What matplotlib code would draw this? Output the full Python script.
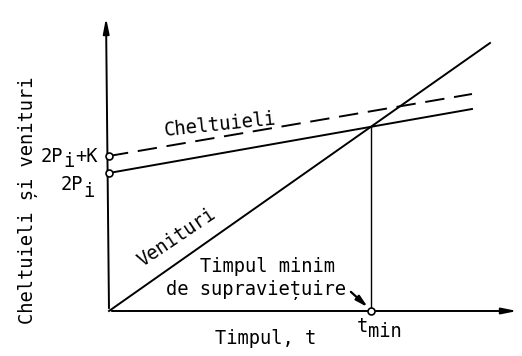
import numpy as np
import matplotlib
matplotlib.use("Agg")
import matplotlib.pyplot as plt

# scrisul din original seamana cu un sablon tehnic cu pas fix
plt.rcParams['font.family'] = ['DejaVu Sans Mono']

# date (unitati arbitrare)
t_cost = [0, 363]
cheltuieli = [138, 202]        # 2Pi -> ...
cheltuieli_k = [155, 217]      # 2Pi + K -> ...
t_venit = [0, 381]
venituri = [0, 268]
x_max, y_max = 411, 296

# intersectia venituri / cheltuieli (timpul minim)
a1 = (venituri[1] - venituri[0]) / (t_venit[1] - t_venit[0])
a2 = (cheltuieli[1] - cheltuieli[0]) / (t_cost[1] - t_cost[0])
t_min = (cheltuieli[0] - venituri[0]) / (a1 - a2)
y_min = venituri[0] + a1 * t_min

fig = plt.figure(figsize=(5.22, 3.56), dpi=100)
ax = fig.add_axes([109 / 522, 45 / 356, 413 / 522, 311 / 356])
ax.set_xlim(0, 413)
ax.set_ylim(0, 311)
ax.axis('off')

k = dict(color='black', clip_on=False)

# axe cu sageti
ax.annotate('', xy=(x_max, 0), xytext=(0, 0), annotation_clip=False,
            arrowprops=dict(arrowstyle='-|>,head_length=0.9,head_width=0.18', color='black', lw=1.4))
ax.annotate('', xy=(-3, y_max), xytext=(0, 0), annotation_clip=False,
            arrowprops=dict(arrowstyle='-|>,head_length=0.9,head_width=0.18', color='black', lw=1.4))

ax.plot(t_cost, cheltuieli, lw=1.4, **k)
ax.plot(t_cost, cheltuieli_k, lw=1.4, ls=(0, (10, 5)), **k)
ax.plot(t_venit, venituri, lw=1.4, **k)
ax.plot([t_min, t_min], [0, y_min], lw=1.0, **k)

ax.plot([0, 0, t_min], [cheltuieli_k[0], cheltuieli[0], 0], 'o', ms=5,
        mfc='white', mec='black', mew=1.2, clip_on=False, zorder=5)

fs = 13.5
adv = 11.3   # latimea unui caracter (font cu pas fix), in unitati de date
# 2Pi+K si 2Pi, indicele i scris la aceeasi marime, doar coborat
x0 = -68
ax.text(x0, 149, '2P', ha='left', va='baseline', fontsize=fs)
ax.text(x0 + 2 * adv, 144, 'i', ha='left', va='baseline', fontsize=fs)
ax.text(x0 + 3 * adv, 149, '+K', ha='left', va='baseline', fontsize=fs)
x1 = -48
ax.text(x1, 121, '2P', ha='left', va='baseline', fontsize=fs)
ax.text(x1 + 2 * adv, 114, 'i', ha='left', va='baseline', fontsize=fs)

ax.text(111, 186, 'Cheltuieli', ha='center', va='center', fontsize=fs, rotation=6)
ax.text(68, 74, 'Venituri', ha='center', va='center', fontsize=fs, rotation=34)
ax.text(158, 39, 'Timpul minim', ha='center', va='baseline', fontsize=fs)
ax.text(147, 16, 'de supraviețuire', ha='center', va='baseline', fontsize=fs)
ax.annotate('', xy=(t_min - 1, 2), xytext=(t_min - 22, 21), annotation_clip=False,
            arrowprops=dict(arrowstyle='-|>,head_length=0.7,head_width=0.18', color='black', lw=1.6))
ax.text(t_min - 14, -21, 't', ha='left', va='baseline', fontsize=fs)
ax.text(t_min - 14 + adv, -26, 'min', ha='left', va='baseline', fontsize=fs)
ax.text(157, -27, 'Timpul, t', ha='center', va='center', fontsize=fs)
ax.text(-81, 111, 'Cheltuieli și venituri', ha='center', va='center', fontsize=fs, rotation=90)

fig.savefig('out.png', dpi=100)
